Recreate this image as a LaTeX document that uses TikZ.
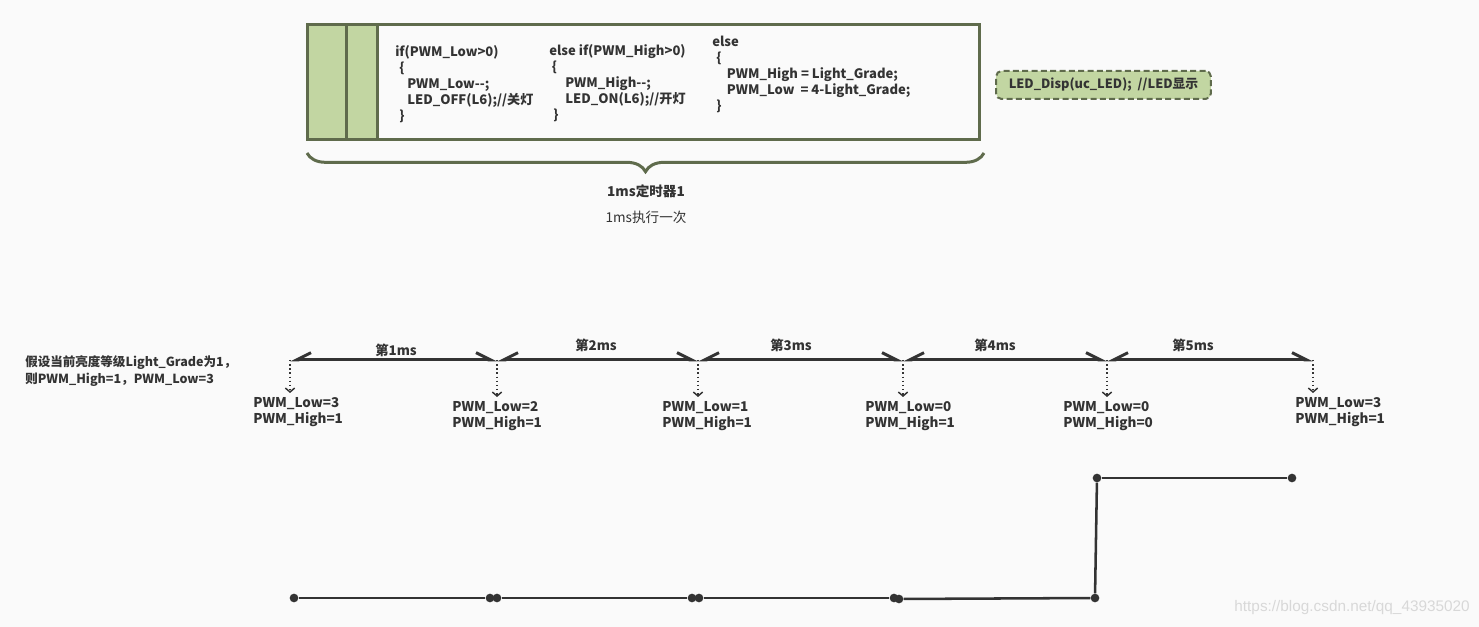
\documentclass[tikz,border=0pt]{standalone}
\usepackage{fontspec}
\setmainfont{Noto Sans CJK SC}
\newfontfamily\wmfont{Liberation Sans}
\usetikzlibrary{arrows.meta,decorations.pathreplacing}
\definecolor{bg}{HTML}{FAFAFA}
\definecolor{olive}{HTML}{5F6B4C}
\definecolor{leaf}{HTML}{C2D6A2}
\definecolor{ink}{HTML}{333333}
\definecolor{wm}{HTML}{D8D8D8}
\begin{document}
\begin{tikzpicture}[x=0.75pt,y=-0.75pt,
  code/.style={anchor=north west, align=left, inner sep=0pt, text=ink, font=\bfseries\fontsize{9.8}{12}\selectfont},
  pwm/.style={anchor=north west, align=left, inner sep=0pt, text=ink, font=\bfseries\fontsize{10.1}{12}\selectfont},
  seglbl/.style={inner sep=0pt, text=ink, font=\bfseries\fontsize{10}{12}\selectfont},
  barbs/.style={{Straight Barb[harpoon,swap,length=11pt,width=11pt]}-{Straight Barb[harpoon,length=11pt,width=11pt]}},
  tl/.style={draw=ink, line width=2.25pt, barbs},
  dotarrow/.style={draw=ink, dotted, line width=1.1pt, -{Straight Barb[length=3pt,width=7pt]}, shorten >=3pt},
  dot/.style={circle, fill=ink, inner sep=0pt, minimum size=6.5pt},
  wave/.style={draw=ink, line width=1.9pt},
]
\fill[bg] (0,0) rectangle (1479,627);
\useasboundingbox (0,0) rectangle (1479,627);

% frame
\fill[leaf] (307,25) rectangle (377,140);
\draw[olive, line width=2.25pt] (307,25) rectangle (979,140);
\draw[olive, line width=2.25pt] (346.5,25) -- (346.5,140);
\draw[olive, line width=2.25pt] (377.5,25) -- (377.5,140);

\node[code] (c1) at (395,45) {if(PWM\_Low>0)\\
\hspace*{3pt}\{\\
\hspace*{9pt}PWM\_Low-{}-;\\
\hspace*{9pt}LED\_OFF(L6);//关灯\\
\hspace*{3pt}\}};
\node[code] (c2) at (549,44) {else if(PWM\_High>0)\\
\hspace*{2pt}\{\\
\hspace*{12pt}PWM\_High-{}-;\\
\hspace*{12pt}LED\_ON(L6);//开灯\\
\hspace*{3pt}\}};
\node[code] (c3) at (712,36) {else\\
\hspace*{3pt}\{\\
\hspace*{11pt}PWM\_High = Light\_Grade;\\
\hspace*{11pt}PWM\_Low\ \ = 4-Light\_Grade;\\
\hspace*{3pt}\}};

% brace
\draw[olive, line width=2.25pt, decorate, decoration={brace, mirror, amplitude=14pt}] (307,153) -- (984,153);
\node[inner sep=0pt, text=ink, font=\bfseries\fontsize{10.2}{12}\selectfont] (t1lbl) at (646,191) {1ms定时器1};
\node[inner sep=0pt, text=ink, font=\fontsize{10.2}{12}\selectfont] (t2lbl) at (646,217) {1ms执行一次};

% LED box
\node[draw=olive, fill=leaf, dashed, dash pattern=on 4.5pt off 2.5pt, line width=1.5pt, rounded corners=4pt,
  minimum width=161pt, minimum height=21pt, inner sep=0pt, text=ink, font=\bfseries\fontsize{9.6}{12}\selectfont]
  (led) at (1103.5,85) {LED\_Disp(uc\_LED);\ \ //LED显示};

% note
\node[anchor=north west, align=left, inner sep=0pt, text=ink, font=\bfseries\fontsize{9.4}{12.75}\selectfont] (note) at (25,355)
  {假设当前亮度等级Light\_Grade为1，\\则PWM\_High=1，PWM\_Low=3};

% timeline
\coordinate (t0) at (290,360);
\coordinate (t1) at (497,360);
\coordinate (t2) at (698,360);
\coordinate (t3) at (903,360);
\coordinate (t4) at (1107,360);
\coordinate (t5) at (1313,360);
\draw[tl] (t0) -- (t1);
\draw[tl] (t1) -- (t2);
\draw[tl] (t2) -- (t3);
\draw[tl] (t3) -- (t4);
\draw[tl] (t4) -- (t5);
\node[seglbl] (s1) at (396,350) {第1ms};
\node[seglbl] (s2) at (596,345) {第2ms};
\node[seglbl] (s3) at (791,345) {第3ms};
\node[seglbl] (s4) at (995,345) {第4ms};
\node[seglbl] (s5) at (1193,345) {第5ms};

\node[pwm] (p0) at (253,397) {PWM\_Low=3\\PWM\_High=1};
\node[pwm] (p1) at (452,401) {PWM\_Low=2\\PWM\_High=1};
\node[pwm] (p2) at (662,401) {PWM\_Low=1\\PWM\_High=1};
\node[pwm] (p3) at (865,401) {PWM\_Low=0\\PWM\_High=1};
\node[pwm] (p4) at (1063,401) {PWM\_Low=0\\PWM\_High=0};
\node[pwm] (p5) at (1295,397) {PWM\_Low=3\\PWM\_High=1};

\draw[dotarrow] (t0) -- (t0 |- p0.north);
\draw[dotarrow] (t1) -- (t1 |- p1.north);
\draw[dotarrow] (t2) -- (t2 |- p2.north);
\draw[dotarrow] (t3) -- (t3 |- p3.north);
\draw[dotarrow] (t4) -- (t4 |- p4.north);
\draw[dotarrow] (t5) -- (t5 |- p5.north);

% waveform
\node[dot] (w0) at (294,598) {};
\node[dot] (w1a) at (490,598) {};
\node[dot] (w1b) at (497,598) {};
\node[dot] (w2a) at (692,598) {};
\node[dot] (w2b) at (699,598) {};
\node[dot] (w3a) at (894,598) {};
\node[dot] (w3b) at (899,599) {};
\node[dot] (w4) at (1095,598) {};
\node[dot] (w5) at (1097,478) {};
\node[dot] (w6) at (1292,478) {};
\draw[wave] (w0) -- (w1a);
\draw[wave] (w1b) -- (w2a);
\draw[wave] (w2b) -- (w3a);
\draw[wave] (w3b) -- (w4);
\draw[wave] (w4) -- (w5);
\draw[wave] (w5) -- (w6);

\node[anchor=east, inner sep=0pt, text=wm, font=\wmfont\fontsize{11.5}{13}\selectfont] (wmk) at (1470,608) {https://blog.csdn.net/qq\_43935020};
\end{tikzpicture}
\end{document}
